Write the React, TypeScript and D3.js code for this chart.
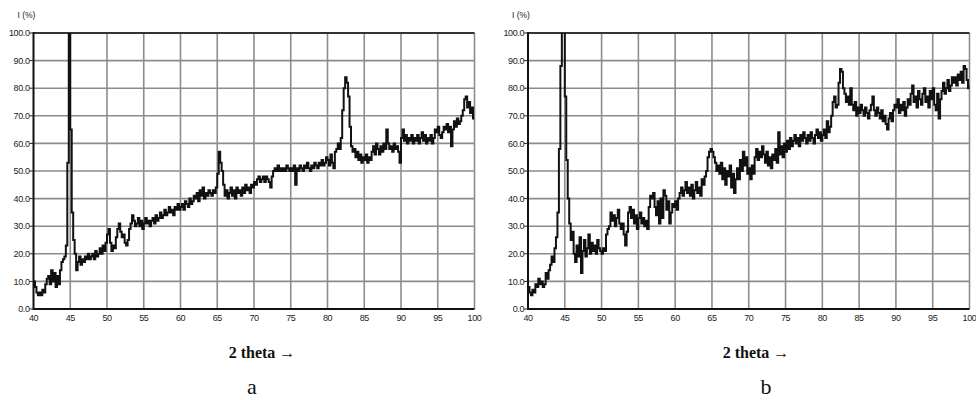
import React from "react";
import * as d3 from "d3";

// 2 theta from 40 to 100 deg, one reading every 0.2 deg
const THETA_START = 40;
const THETA_STEP = 0.2;

const intensityA = [
  10, 8, 6, 5, 6, 5, 7, 6, 9, 11,
  12, 9, 14, 10, 13, 8, 12, 9, 14, 17,
  18, 19, 23, 53, 104, 65, 35, 25, 20, 14,
  17, 19, 16, 18, 17, 19, 18, 20, 18, 19,
  20, 18, 21, 19, 20, 22, 20, 23, 21, 24,
  27, 29, 24, 21, 23, 22, 26, 29, 31, 28,
  26, 27, 24, 23, 25, 29, 31, 34, 32, 30,
  31, 33, 30, 32, 29, 31, 33, 31, 32, 30,
  32, 33, 31, 34, 32, 33, 35, 33, 34, 36,
  34, 35, 37, 35, 36, 34, 37, 36, 38, 36,
  37, 38, 36, 39, 38, 37, 40, 38, 39, 41,
  40, 42, 39, 43, 41, 44, 40, 42, 41, 43,
  42, 41, 43, 42, 44, 49, 57, 53, 50, 45,
  41, 43, 40, 42, 44, 41, 43, 40, 44, 42,
  43, 41, 44, 42, 45, 43, 44, 42, 45, 44,
  46, 45, 47, 48, 46, 47, 48, 46, 48, 47,
  46, 44, 48, 50, 51, 50, 52, 50, 51, 50,
  51, 50, 52, 51, 50, 51, 50, 52, 45, 51,
  50, 52, 51, 50, 52, 51, 53, 51, 50, 52,
  51, 53, 52, 51, 53, 52, 54, 52, 53, 55,
  54, 52, 56, 53, 51, 57, 58, 60, 58, 62,
  72, 80, 84, 82, 77, 66, 59, 57, 58, 55,
  57, 54, 56, 53, 55, 54, 56, 53, 55, 54,
  57, 59, 56, 60, 58, 56, 59, 57, 60, 58,
  65, 60, 58, 59, 57, 60, 58, 59, 57, 53,
  62, 65, 61, 63, 60, 62, 61, 63, 60, 62,
  61, 63, 60, 62, 64, 61, 63, 60, 62, 61,
  63, 60, 62, 65, 64, 66, 63, 62, 64, 66,
  65, 67, 64, 66, 59, 65, 68, 66, 69, 67,
  68, 70, 72, 76, 77, 73, 75, 71, 73, 69,
  69,
];

const intensityB = [
  8, 6, 5, 7, 6, 9, 8, 11, 9, 10,
  8, 9, 13, 11, 14, 16, 19, 17, 22, 26,
  35, 58, 88, 108, 105, 77, 54, 40, 31, 25,
  28, 20, 17, 23, 19, 26, 13, 21, 25, 19,
  22, 27, 20, 24, 21, 23, 20, 25, 22, 21,
  20, 22, 21, 27, 29, 30, 35, 32, 34, 30,
  33, 36, 31, 29, 31, 27, 23, 28, 35, 37,
  33, 36, 31, 34, 29, 33, 35, 31, 33, 30,
  32, 29, 37, 41, 40, 42, 37, 34, 39, 31,
  40, 33, 43, 41, 36, 39, 31, 35, 38, 37,
  39, 36, 40, 42, 44, 41, 43, 46, 42, 44,
  41, 45, 40, 43, 46, 42, 44, 41, 47, 45,
  48, 50, 55, 57, 58, 57, 55, 53, 50, 52,
  49, 53, 47, 51, 45, 50, 48, 52, 44, 49,
  42, 47, 51, 47, 54, 50, 57, 52, 55, 49,
  51, 47, 52, 49, 55, 58, 54, 57, 55, 59,
  56, 53, 57, 52, 55, 51, 56, 54, 58, 53,
  64, 56, 59, 55, 60, 57, 61, 58, 62, 59,
  61, 63, 60, 62, 59, 63, 61, 64, 62, 60,
  63, 61, 64, 62, 60, 63, 65, 62, 64, 61,
  63, 65, 62, 68, 64, 66, 70, 75, 77, 73,
  74, 82, 87, 86, 80, 78, 75, 77, 74, 80,
  74, 72, 75, 70, 73, 71, 74, 72, 70, 73,
  71, 69, 72, 74, 77, 72, 70, 73, 71, 69,
  72, 68, 70, 67, 65, 69, 71, 68, 72, 74,
  73, 76, 71, 74, 72, 75, 70, 73, 76, 74,
  78, 81, 75, 77, 73, 79, 76, 74, 78, 80,
  75, 77, 73, 79, 76, 80, 74, 72, 78, 69,
  76, 79, 82, 78, 80, 83, 79, 81, 84, 82,
  84, 81, 85, 83, 86, 82, 88, 87, 83, 80,
  81,
];

const xTicks = [40, 45, 50, 55, 60, 65, 70, 75, 80, 85, 90, 95, 100];
const yTicks = [0, 10, 20, 30, 40, 50, 60, 70, 80, 90, 100];

const tickFont = "Liberation Sans, Arial, sans-serif";
const serif = "Liberation Serif, Times New Roman, serif";

function Panel({ id, values, left, right, titleX, captionX, caption }) {
  const x = d3.scaleLinear().domain([40, 100]).range([left, right]);
  const y = d3.scaleLinear().domain([0, 100]).range([309, 33]);
  const theta = values.map((_, i) => THETA_START + i * THETA_STEP);

  const line = d3
    .line<number>()
    .x((d, i) => x(theta[i]))
    .y((d) => y(d))
    .curve(d3.curveStepAfter);

  return (
    <g>
      <defs>
        <clipPath id={id}>
          <rect x={x(40)} y={y(100)} width={x(100) - x(40)} height={y(0) - y(100)} />
        </clipPath>
      </defs>

      {/* grid */}
      {xTicks.slice(1).map((t) => (
        <line key={"vx" + t} x1={x(t)} x2={x(t)} y1={y(0)} y2={y(100)} stroke="#8c8c8c" strokeWidth={1.6} />
      ))}
      {yTicks.slice(1, -1).map((t) => (
        <line key={"hy" + t} x1={x(40)} x2={x(100)} y1={y(t)} y2={y(t)} stroke="#8c8c8c" strokeWidth={1.6} />
      ))}
      <line x1={x(40)} x2={x(100)} y1={y(100)} y2={y(100)} stroke="#333" strokeWidth={2} />

      <path d={line(values)} fill="none" stroke="#111" strokeWidth={2} clipPath={`url(#${id})`} />

      {/* axes */}
      <line x1={x(40)} x2={x(40)} y1={y(0) + 1} y2={y(100) - 1} stroke="#111" strokeWidth={2} />
      <line x1={x(40)} x2={x(100)} y1={y(0)} y2={y(0)} stroke="#111" strokeWidth={2} />

      {yTicks.map((t) => (
        <g key={"yt" + t}>
          <line x1={x(40) - 4} x2={x(40)} y1={y(t)} y2={y(t)} stroke="#222" strokeWidth={1} />
          <text x={x(40) - 4} y={y(t)} dy="0.35em" textAnchor="end" fontSize={9} fontFamily={tickFont} fill="#222" letterSpacing={-0.4}>
            {t.toFixed(1)}
          </text>
        </g>
      ))}
      {xTicks.map((t) => (
        <text key={"xt" + t} x={x(t)} y={321} textAnchor="middle" fontSize={9} fontFamily={tickFont} fill="#222" letterSpacing={-0.4}>
          {t}
        </text>
      ))}

      <text x={x(40) - 16} y={18} fontSize={8.5} fontFamily={tickFont} fill="#222">
        I (%)
      </text>

      <text x={titleX} y={358} textAnchor="middle" fontSize={16} fontWeight="bold" fontFamily={serif} fill="#111">
        2 theta →
      </text>
      <text x={captionX} y={394} textAnchor="middle" fontSize={22} fontFamily={serif} fill="#111">
        {caption}
      </text>
    </g>
  );
}

export default function App() {
  return (
    <svg width={976} height={400} style={{ position: "absolute", left: 0, top: 0, background: "#fff" }}>
      <rect width={976} height={400} fill="#fff" />
      <Panel id="clipA" values={intensityA} left={33.5} right={474.5} titleX={262} captionX={252} caption="a" />
      <Panel id="clipB" values={intensityB} left={528} right={969.5} titleX={756} captionX={766} caption="b" />
    </svg>
  );
}
